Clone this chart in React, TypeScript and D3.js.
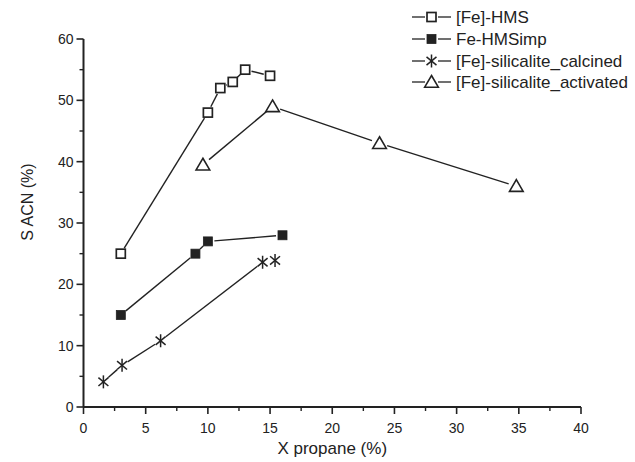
import React from "react";
import * as d3 from "d3";

const hmsX = [3, 10, 11, 12, 13, 15];
const hmsY = [25, 48, 52, 53, 55, 54];
const impX = [3, 9, 10, 16];
const impY = [15, 25, 27, 28];
const calX = [1.6, 3.1, 6.2, 14.4, 15.4];
const calY = [4.1, 6.8, 10.8, 23.6, 23.9];
const actX = [9.6, 15.2, 23.8, 34.8];
const actY = [39.5, 49, 43, 36];

const seriesNames = ["[Fe]-HMS", "Fe-HMSimp", "[Fe]-silicalite_calcined", "[Fe]-silicalite_activated"];
const markerKinds = ["squareOpen", "squareFilled", "star", "triangle"];

const xTicks = [0, 5, 10, 15, 20, 25, 30, 35, 40];
const yTicks = [0, 10, 20, 30, 40, 50, 60];
const xMinor = [2.5, 7.5, 12.5, 17.5, 22.5, 27.5, 32.5, 37.5];
const yMinor = [5, 15, 25, 35, 45, 55];

const W = 635, H = 462;
const x = d3.scaleLinear().domain([0, 40]).range([83.5, 581]);
const y = d3.scaleLinear().domain([0, 60]).range([407, 39]);
const INK = "#222";
const FONT = "Arial, 'Liberation Sans', sans-serif";

function Marker({ kind, cx, cy }: { kind: string; cx: number; cy: number }) {
  if (kind === "squareOpen") {
    return <rect x={cx - 4.5} y={cy - 4.5} width={9} height={9} fill="#fff" stroke={INK} strokeWidth={1.7} />;
  }
  if (kind === "squareFilled") {
    return <rect x={cx - 4.5} y={cy - 4.5} width={9} height={9} fill={INK} stroke={INK} strokeWidth={0.8} />;
  }
  if (kind === "triangle") {
    const s = 6.5;
    const p = `${cx},${cy - s} ${cx + s * 1.05},${cy + s * 0.8} ${cx - s * 1.05},${cy + s * 0.8}`;
    return <polygon points={p} fill="#fff" stroke={INK} strokeWidth={1.6} strokeLinejoin="miter" />;
  }
  const r = 6.5;
  const lines = [90, 40, 140].map((a) => {
    const rad = (a * Math.PI) / 180;
    return (
      <line key={a} x1={cx - r * Math.cos(rad)} y1={cy - r * Math.sin(rad)} x2={cx + r * Math.cos(rad)} y2={cy + r * Math.sin(rad)} stroke={INK} strokeWidth={1.5} />
    );
  });
  return <g>{lines}</g>;
}

function Series({ xs, ys, kind }: { xs: number[]; ys: number[]; kind: string }) {
  const pts = xs.map((v, i) => [x(v), y(ys[i])] as [number, number]);
  const gap = kind === "triangle" ? 8 : 6.5;
  const segs = [];
  for (let i = 0; i < pts.length - 1; i++) {
    const [x1, y1] = pts[i];
    const [x2, y2] = pts[i + 1];
    const len = Math.hypot(x2 - x1, y2 - y1);
    if (len <= gap * 2) continue;
    const ux = (x2 - x1) / len, uy = (y2 - y1) / len;
    segs.push(
      <line key={i} x1={x1 + ux * gap} y1={y1 + uy * gap} x2={x2 - ux * gap} y2={y2 - uy * gap} stroke={INK} strokeWidth={1.4} />
    );
  }
  return (
    <g>
      {segs}
      {pts.map((p, i) => (
        <Marker key={i} kind={kind} cx={p[0]} cy={p[1]} />
      ))}
    </g>
  );
}

export default function App() {
  const data = [
    [hmsX, hmsY],
    [impX, impY],
    [calX, calY],
    [actX, actY],
  ];
  const legendY = [17, 39, 61, 82];
  return (
    <svg width={W} height={H} style={{ position: "absolute", left: 0, top: 0, background: "#fff" }} fontFamily={FONT}>
      <rect width={W} height={H} fill="#fff" />
      <line x1={x(0)} y1={y(0)} x2={x(40)} y2={y(0)} stroke={INK} strokeWidth={2} />
      <line x1={x(0)} y1={y(0)} x2={x(0)} y2={y(60)} stroke={INK} strokeWidth={2} />
      {xTicks.map((t) => (
        <g key={"xt" + t}>
          <line x1={x(t)} x2={x(t)} y1={y(0)} y2={y(0) + 7} stroke={INK} strokeWidth={1.6} />
          <text x={x(t)} y={433} textAnchor="middle" fontSize={14} fill={INK}>{t}</text>
        </g>
      ))}
      {xMinor.map((t) => (
        <line key={"xm" + t} x1={x(t)} x2={x(t)} y1={y(0)} y2={y(0) + 4} stroke={INK} strokeWidth={1.4} />
      ))}
      {yTicks.map((t) => (
        <g key={"yt" + t}>
          <line x1={x(0) - 7} x2={x(0)} y1={y(t)} y2={y(t)} stroke={INK} strokeWidth={1.6} />
          <text x={x(0) - 10} y={y(t) + 5} textAnchor="end" fontSize={14} fill={INK}>{t}</text>
        </g>
      ))}
      {yMinor.map((t) => (
        <line key={"ym" + t} x1={x(0) - 4} x2={x(0)} y1={y(t)} y2={y(t)} stroke={INK} strokeWidth={1.4} />
      ))}
      <text x={x(20)} y={454} textAnchor="middle" fontSize={17} fill={INK}>X propane (%)</text>
      <text transform={`translate(33,202) rotate(-90)`} textAnchor="middle" fontSize={16} fill={INK}>S ACN (%)</text>
      {data.map((d, i) => (
        <Series key={i} xs={d[0]} ys={d[1]} kind={markerKinds[i]} />
      ))}
      {seriesNames.map((n, i) => (
        <g key={n}>
          <line x1={412} x2={425} y1={legendY[i]} y2={legendY[i]} stroke={INK} strokeWidth={1.3} />
          <line x1={438} x2={451} y1={legendY[i]} y2={legendY[i]} stroke={INK} strokeWidth={1.3} />
          <Marker kind={markerKinds[i]} cx={431.5} cy={legendY[i]} />
          <text x={456} y={legendY[i] + 6} fontSize={17} fill={INK}>{n}</text>
        </g>
      ))}
    </svg>
  );
}
